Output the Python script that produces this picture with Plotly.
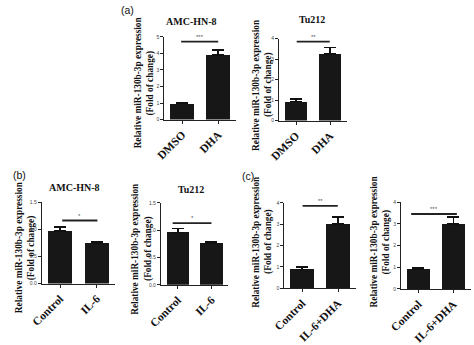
import plotly.graph_objects as go

W, H = 474, 345

# ---- data ----
cats_a = ["DMSO", "DHA"]
cats_b = ["Control", "IL-6"]
cats_c = ["Control", "IL-6+DHA"]

a1_vals = [0.97, 3.9]
a1_err = [0.06, 0.3]
a2_vals = [0.94, 3.25]
a2_err = [0.11, 0.33]
b1_vals = [0.97, 0.745]
b1_err = [0.07, 0.03]
b2_vals = [0.96, 0.765]
b2_err = [0.075, 0.025]
c1_vals = [0.88, 3.0]
c1_err = [0.1, 0.33]
c2_vals = [0.93, 3.0]
c2_err = [0.05, 0.3]

titles = ["AMC-HN-8", "Tu212", "AMC-HN-8", "Tu212", "", ""]
stars = ["***", "**", "*", "*", "**", "***"]
sig_y = [4.71, 3.86, 1.16, 1.13, 3.86, 3.45]
sig_x = [(-0.03, 1.0), (0.02, 0.99), (0.06, 1.02), (-0.15, 1.0), (0.01, 0.99), (-0.21, 1.1)]
yranges = [(0, 5), (0, 4), (0, 1.5), (0, 1.5), (0, 4), (0, 4)]
ydticks = [1, 1, 0.5, 0.5, 1, 1]
ytickfmt = ["", "", ".1f", ".1f", "", ""]
ytitle_lines = ["Relative miR-130b-3p expression", "(Fold of change)"]

# ---- layout geometry (pixels) ----
# (x_left, x_right, y_top, y_bottom)
boxes = [
    (155.5, 229.5, 35.7, 123.0),
    (273.5, 343.5, 37.7, 124.0),
    (29.5, 104.9, 210.0, 296.0),
    (152.0, 221.4, 211.0, 297.3),
    (279.0, 352.7, 211.0, 300.7),
    (399.0, 470.7, 210.0, 301.7),
]
ytitle_pos = [(135, 84), (256, 86), (12.5, 258), (132.5, 259), (256.5, 252), (377.5, 252)]
title_pos = [(184, 19), (307, 17), (63, 195), (183, 197)]
panel_labels = [("(a)", 118, 7), ("(b)", 7, 181), ("(c)", 242, 182)]

panels = [
    (cats_a, a1_vals, a1_err),
    (cats_a, a2_vals, a2_err),
    (cats_b, b1_vals, b1_err),
    (cats_b, b2_vals, b2_err),
    (cats_c, c1_vals, c1_err),
    (cats_c, c2_vals, c2_err),
]

SERIF = "Liberation Serif"
fig = go.Figure()
shapes = []
annotations = []

for i, ((cats, vals, errs), box) in enumerate(zip(panels, boxes)):
    n = i + 1
    xa = "x" if n == 1 else f"x{n}"
    ya = "y" if n == 1 else f"y{n}"
    fig.add_trace(go.Bar(
        x=[0, 1], y=vals, width=0.66, xaxis=xa, yaxis=ya,
        marker=dict(color="#171717", line=dict(width=0)),
        error_y=dict(type="data", symmetric=False, array=errs,
                     arrayminus=[0, 0], color="#111111", thickness=1.6, width=6),
        showlegend=False,
    ))
    x0, x1, yt, yb = box
    xkey = "xaxis" if n == 1 else f"xaxis{n}"
    ykey = "yaxis" if n == 1 else f"yaxis{n}"
    fig.update_layout({
        xkey: dict(domain=[x0 / W, x1 / W], anchor=ya, range=[-0.5, 1.5],
                   tickmode="array", tickvals=[0, 1], ticktext=cats,
                   tickangle=-45, showline=True, linecolor="#222", linewidth=1,
                   ticks="outside", ticklen=3, tickcolor="#222",
                   showgrid=False, zeroline=False,
                   tickfont=dict(family=SERIF, size=11.5, color="#111", weight="bold")),
        ykey: dict(domain=[1 - yb / H, 1 - yt / H], anchor=xa, range=list(yranges[i]),
                   dtick=ydticks[i], tick0=0, tickformat=ytickfmt[i],
                   showline=True, linecolor="#222", linewidth=1,
                   ticks="outside", ticklen=3, tickcolor="#222",
                   showgrid=False, zeroline=False,
                   tickfont=dict(family="Liberation Sans", size=5, color="#444")),
    })
    # significance line
    sx0, sx1 = sig_x[i]
    shapes.append(dict(type="line", xref=xa, yref=ya, x0=sx0, x1=sx1,
                       y0=sig_y[i], y1=sig_y[i], line=dict(color="#222", width=1.8)))
    annotations.append(dict(xref=xa, yref=ya, x=(sx0 + sx1) / 2, y=sig_y[i],
                            text=stars[i], showarrow=False, yanchor="bottom",
                            yshift=0, font=dict(size=6, color="#555", family="Liberation Sans")))
    # y title (two lines, wider spacing)
    tx, ty = ytitle_pos[i]
    for k, line in enumerate(ytitle_lines):
        annotations.append(dict(xref="paper", yref="paper", x=(tx + (k - 0.5) * 13.5) / W,
                                y=1 - ty / H, text=line,
                                textangle=-90, showarrow=False, xanchor="center", yanchor="middle",
                                font=dict(family=SERIF, size=9.3, color="#111", weight="bold")))

for t, (px, py) in zip(titles, title_pos):
    annotations.append(dict(xref="paper", yref="paper", x=px / W, y=1 - py / H, text=t,
                            showarrow=False, xanchor="center", yanchor="middle",
                            font=dict(family=SERIF, size=10, color="#111", weight="bold")))

for t, px, py in panel_labels:
    annotations.append(dict(xref="paper", yref="paper", x=px / W, y=1 - py / H, text=t,
                            showarrow=False, xanchor="center", yanchor="middle",
                            font=dict(family="Liberation Sans", size=10.5, color="#111")))

fig.update_layout(width=W, height=H, margin=dict(l=0, r=0, t=0, b=0),
                  paper_bgcolor="white", plot_bgcolor="white",
                  shapes=shapes, annotations=annotations, bargap=0)
fig.write_html("out.html")
